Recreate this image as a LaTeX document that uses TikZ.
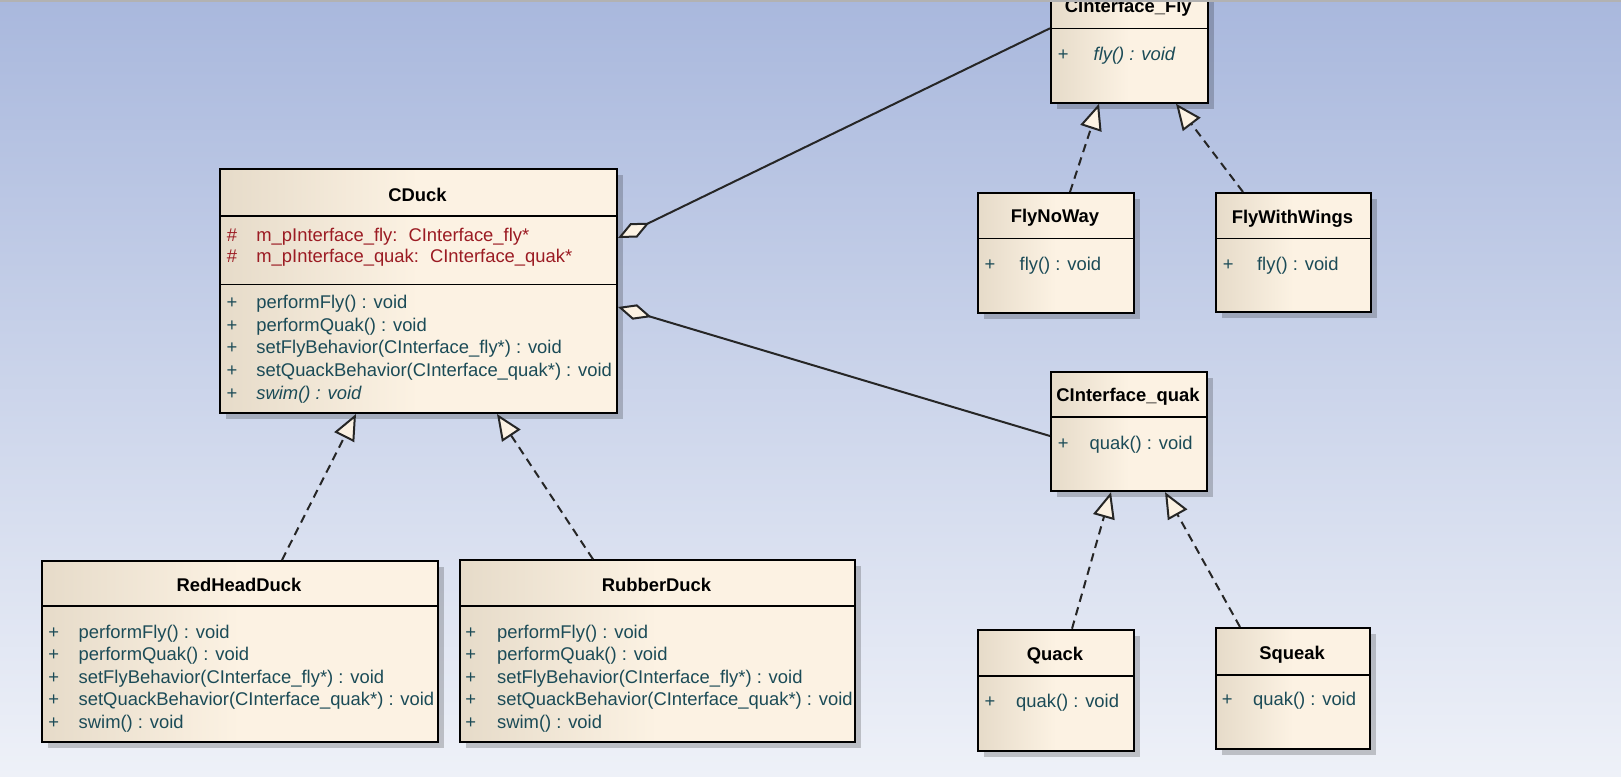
\documentclass[tikz,border=0pt]{standalone}
\usepackage{fontspec}
\setmainfont{Liberation Sans}
\usepackage{xcolor}
\usepackage{tikz}
\usetikzlibrary{arrows.meta,calc,shadows}

\definecolor{bgtop}{HTML}{A9B8DD}
\definecolor{bgbottom}{HTML}{EEF1F8}
\definecolor{classleft}{HTML}{E6DBC9}
\definecolor{classright}{HTML}{FCF2E3}
\definecolor{membertext}{HTML}{1B4B57}
\definecolor{attrtext}{HTML}{9B1B23}

\begin{document}
\begin{tikzpicture}[x=0.5pt,y=-0.5pt,
  font=\fontsize{9.2}{11}\selectfont,
  classbox/.style={draw=black, line width=1pt, anchor=north west, inner sep=0pt,
    left color=classleft, right color=classright, middle color=classright,
    drop shadow={shadow xshift=3pt, shadow yshift=-3pt, opacity=0.2, fill=black}},
  sepline/.style={draw=black, line width=0.8pt},
  classname/.style={font=\fontsize{9.2}{11}\selectfont\bfseries, inner sep=0pt},
  vis/.style={anchor=center, inner sep=0pt, text=membertext, text height=6.6pt, text depth=0pt},
  member/.style={anchor=west, inner sep=0pt, text=membertext, text height=6.6pt, text depth=0pt},
  attr/.style={member, text=attrtext},
  realize/.style={draw=black!85, line width=1pt, dash pattern=on 4.2pt off 2.8pt,
    -{Triangle[length=13pt,width=11pt,fill=classright]}},
  aggregate/.style={draw=black!85, line width=1pt,
    {Diamond[length=17.5pt,width=8pt,fill=classright]}-}]
\useasboundingbox (0,0) rectangle (1621,776);
\clip (0,0) rectangle (1621,776);
% Background
\fill[top color=bgtop, bottom color=bgbottom] (0,0) rectangle (1621,776);

% Class boxes
\node[classbox, minimum width=198.5pt, minimum height=122pt] (cduck) at (219,168) {};
\node[classbox, minimum width=78.3pt, minimum height=59.7pt] (cifly) at (1050,-17.7) {};
\node[classbox, minimum width=78pt, minimum height=59.8pt] (flynoway) at (977,192) {};
\node[classbox, minimum width=77.5pt, minimum height=59.5pt] (flywings) at (1215,192) {};
\node[classbox, minimum width=78pt, minimum height=59.7pt] (ciquak) at (1050,370.7) {};
\node[classbox, minimum width=78pt, minimum height=60.7pt] (quack) at (977,628.7) {};
\node[classbox, minimum width=77.2pt, minimum height=60.7pt] (squeak) at (1215,627) {};
\node[classbox, minimum width=197.8pt, minimum height=90.5pt] (redhead) at (41,560) {};
\node[classbox, minimum width=197.5pt, minimum height=90.8pt] (rubber) at (459,559.3) {};

% Compartment lines
\draw[sepline] ($(cduck.north west)+(0,48)$) -- ($(cduck.north east)+(0,48)$);
\draw[sepline] ($(cduck.north west)+(0,116.3)$) -- ($(cduck.north east)+(0,116.3)$);
\draw[sepline] ($(cifly.north west)+(0,46)$) -- ($(cifly.north east)+(0,46)$);
\draw[sepline] ($(flynoway.north west)+(0,46.3)$) -- ($(flynoway.north east)+(0,46.3)$);
\draw[sepline] ($(flywings.north west)+(0,46.3)$) -- ($(flywings.north east)+(0,46.3)$);
\draw[sepline] ($(ciquak.north west)+(0,46)$) -- ($(ciquak.north east)+(0,46)$);
\draw[sepline] ($(quack.north west)+(0,47.3)$) -- ($(quack.north east)+(0,47.3)$);
\draw[sepline] ($(squeak.north west)+(0,48)$) -- ($(squeak.north east)+(0,48)$);
\draw[sepline] ($(redhead.north west)+(0,46)$) -- ($(redhead.north east)+(0,46)$);
\draw[sepline] ($(rubber.north west)+(0,46.7)$) -- ($(rubber.north east)+(0,46.7)$);

% Class names
\node[classname] (cduckname) at (417.5,195) {CDuck};
\node[classname] (ciflyname) at (1128.3,8) {CInterface\_Fly};
\node[classname] (flynowayname) at (1055,218) {FlyNoWay};
\node[classname] (flywingsname) at (1292.5,218.3) {FlyWithWings};
\node[classname] (ciquakname) at (1128,396.7) {CInterface\_quak};
\node[classname] (quackname) at (1055,655.7) {Quack};
\node[classname] (squeakname) at (1292,655) {Squeak};
\node[classname] (redheadname) at (239,585) {RedHeadDuck};
\node[classname] (rubbername) at (656.5,585) {RubberDuck};

% CDuck members
\node[vis, text=attrtext] (cduckvisa) at (232,235) {\#};
\node[attr] (cduckattra) at (256,235) {m\_pInterface\_fly:\hspace{0.6em}CInterface\_fly*};
\node[vis, text=attrtext] (cduckvisb) at (232,255.7) {\#};
\node[attr] (cduckattrb) at (256,255.7) {m\_pInterface\_quak:\hspace{0.6em}CInterface\_quak*};
\foreach \txt [count=\i] in {performFly() : void, performQuak() : void,
    setFlyBehavior(CInterface\_fly*) : void, setQuackBehavior(CInterface\_quak*) : void,
    \itshape swim() : void} {
  \node[vis] (cduckvis\i) at (232,{301.7+22.8*(\i-1)}) {+};
  \node[member] (cduckop\i) at (256,{301.7+22.8*(\i-1)}) {\txt};
}

% Subclass members
\foreach \txt [count=\i] in {performFly() : void, performQuak() : void,
    setFlyBehavior(CInterface\_fly*) : void, setQuackBehavior(CInterface\_quak*) : void,
    swim() : void} {
  \node[vis] (redheadvis\i) at (53.7,{631.7+22.5*(\i-1)}) {+};
  \node[member] (redheadop\i) at (78.3,{631.7+22.5*(\i-1)}) {\txt};
  \node[vis] (rubbervis\i) at (470.7,{631.7+22.5*(\i-1)}) {+};
  \node[member] (rubberop\i) at (496.7,{631.7+22.5*(\i-1)}) {\txt};
}

% Behaviour members
\node[vis] (ciflyvis) at (1063.3,54) {+};
\node[member] (ciflyop) at (1093.3,54) {\itshape fly() : void};
\node[vis] (flynowayvis) at (990,264) {+};
\node[member] (flynowayop) at (1019.3,264) {fly() : void};
\node[vis] (flywingsvis) at (1228.3,264) {+};
\node[member] (flywingsop) at (1256.7,264) {fly() : void};
\node[vis] (ciquakvis) at (1063.3,442.7) {+};
\node[member] (ciquakop) at (1089.3,442.7) {quak() : void};
\node[vis] (quackvis) at (990,700.7) {+};
\node[member] (quackop) at (1015.7,700.7) {quak() : void};
\node[vis] (squeakvis) at (1227.3,699.3) {+};
\node[member] (squeakop) at (1252.7,699.3) {quak() : void};

% Aggregations
\draw[aggregate] ($(cduck.north east)+(0,70)$) -- ($(cifly.north west)+(0,46)$);
\draw[aggregate] ($(cduck.north east)+(0,139)$) -- ($(ciquak.north west)+(0,65.3)$);

% Realizations
\draw[realize] ($(redhead.north west)+(241,0)$) -- ($(cduck.south west)+(137,0)$);
\draw[realize] ($(rubber.north west)+(134,0)$) -- ($(cduck.south west)+(278,0)$);
\draw[realize] ($(flynoway.north west)+(93,0)$) -- ($(cifly.south west)+(49,0)$);
\draw[realize] ($(flywings.north west)+(28,0)$) -- ($(cifly.south west)+(126,0)$);
\draw[realize] ($(quack.north west)+(95,0)$) -- ($(ciquak.south west)+(61,0)$);
\draw[realize] ($(squeak.north west)+(25,0)$) -- ($(ciquak.south west)+(115,0)$);

% Window edge
\draw[black!30, line width=1pt] (0,1) -- (1621,1);
\end{tikzpicture}
\end{document}
